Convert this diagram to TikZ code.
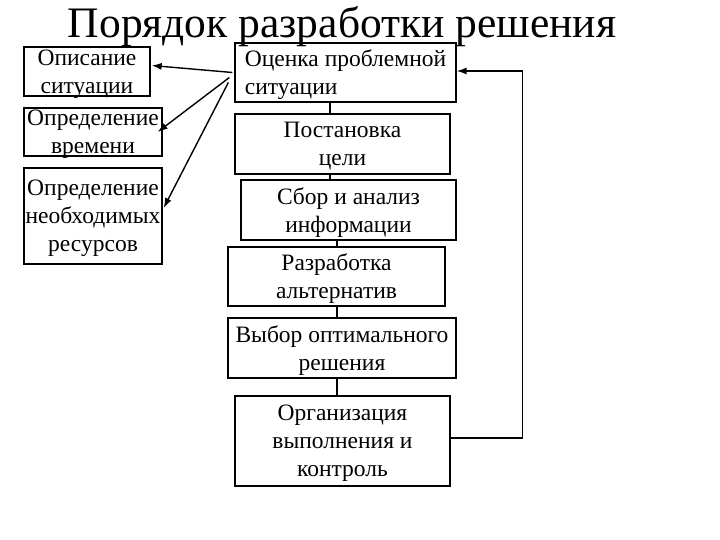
\documentclass[tikz,border=0pt]{standalone}
\usepackage{fontspec}
\setmainfont{Liberation Serif}
\usepackage{tikz}
\usetikzlibrary{positioning,calc,arrows.meta}

\begin{document}
\begin{tikzpicture}[x=1pt, y=-1pt,
  stage/.style={draw, line width=1.3pt, align=center, inner sep=0pt, text depth=0pt, font=\fontsize{23.5}{28}\selectfont},
  link/.style={line width=1.3pt},
  arr/.style={line width=1.4pt, -{Latex[length=10pt,width=7pt]}}]
  \useasboundingbox (0,0) rectangle (720,540);

  % Title
  \node[anchor=base, font=\fontsize{43.5}{50}\selectfont] (title) at (342,38) {Порядок разработки решения};

  % Main chain of stages
  \node[stage, align=left, text depth=-8pt, minimum width=221pt, minimum height=59pt] (ocenka) at (345.5,72.5) {Оценка проблемной\\ситуации};
  \node[stage, minimum width=215pt, minimum height=60pt] (postanovka) at (342.5,144) {Постановка\\цели};
  \node[stage, minimum width=215pt, minimum height=60pt] (sbor) at (348.5,210) {Сбор и анализ\\информации};
  \node[stage, minimum width=217pt, minimum height=59pt] (razrabotka) at (336.5,276.5) {Разработка\\альтернатив};
  \node[stage, minimum width=228pt, minimum height=60pt] (vybor) at (342,348) {Выбор оптимального\\решения};
  \node[stage, minimum width=215pt, minimum height=90pt] (organiz) at (342.5,441) {Организация\\выполнения и\\контроль};

  % Side boxes
  \node[stage, minimum width=126pt, minimum height=49pt] (opisanie) at (87,71.5) {Описание\\ситуации};
  \node[stage, minimum width=138pt, minimum height=48pt] (vremya) at (93,132) {Определение\\времени};
  \node[stage, minimum width=138pt, minimum height=96pt] (resursy) at (93,216) {Определение\\необходимых\\ресурсов};

  % Links between stages
  \coordinate (upper) at (330,0);
  \coordinate (lower) at (337,0);
  \draw[link] (ocenka.south -| upper) -- (postanovka.north -| upper);
  \draw[link] (postanovka.south -| upper) -- (sbor.north -| upper);
  \draw[link] (sbor.south -| lower) -- (razrabotka.north -| lower);
  \draw[link] (razrabotka.south -| lower) -- (vybor.north -| lower);
  \draw[link] (vybor.south -| lower) -- (organiz.north -| lower);

  % Feedback loop
  \draw[arr] ($(organiz.east)+(0,-3)$) -- ++(72,0) |- ($(ocenka.east)+(0,-1.5)$);

  % Arrows to side boxes
  \draw[arr] ($(ocenka.west)+(-2,0)$) -- ($(opisanie.east)+(1,-6)$);
  \draw[arr] ($(ocenka.west)+(-5,5)$) -- ($(vremya.east)+(-5,0)$);
  \draw[arr] ($(ocenka.west)+(-6,10)$) -- ($(resursy.east)+(1,-8)$);
\end{tikzpicture}
\end{document}
